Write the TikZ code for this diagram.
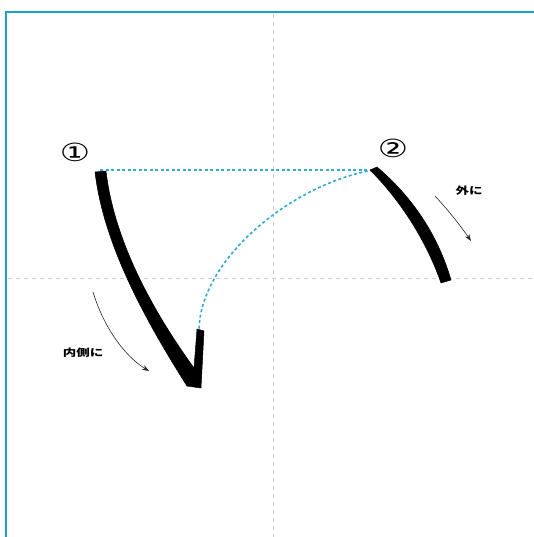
\documentclass[tikz,border=0pt]{standalone}
\usepackage{fontspec}
\newfontfamily\jp{Noto Sans CJK JP}
\newfontfamily\dv{DejaVu Sans}
\usetikzlibrary{arrows.meta}
\definecolor{frameblue}{RGB}{30,160,200}
\definecolor{dotblue}{RGB}{50,170,215}
\definecolor{guide}{RGB}{205,205,205}
\tikzset{
  guideline/.style={guide, line width=0.9pt, dash pattern=on 4pt off 4pt},
  guidepath/.style={dotblue, line width=1.6pt, dash pattern=on 3pt off 2.5pt},
  brush/.style={fill=black, draw=black, line width=0.5pt, line join=round},
  hintarrow/.style={black!85, line width=0.6pt, -{Stealth[length=7pt,width=5pt]}},
  hinttext/.style={font=\jp\bfseries\fontsize{10}{10}\selectfont, xscale=1.35, inner sep=0pt},
  numlabel/.style={font=\dv\fontsize{25}{25}\selectfont, xscale=1.35, inner sep=0pt}
}
\begin{document}
\begin{tikzpicture}[x=1pt,y=-1pt]
\useasboundingbox (0,0) rectangle (533,537);
\fill[white] (0,0) rectangle (533,537);
% guides
\draw[guideline] (273,14) -- (273,537);
\draw[guideline] (8,278) -- (533,278);
% frame
\draw[frameblue, line width=2.6pt] (6,545) -- (6,12) -- (545,12);
% anchor points
\coordinate (p1) at (100,170);
\coordinate (p2) at (373,170);
\coordinate (h) at (199,330);
% guide path (blue dotted)
\draw[guidepath] (p1) -- (p2);
\draw[guidepath] (p2) .. controls (290,185) and (200,260) .. (h);
% stroke 1 with hook
\filldraw[brush] (95,172) .. controls (103,240) and (140,312) .. (187,386)
  -- (201,388) -- (204,331) -- (197,329) -- (194,368)
  .. controls (152,310) and (114,240) .. (106,171) -- cycle;
% stroke 2
\filldraw[brush] (370,170) .. controls (400,200) and (426,240) .. (441,283)
  -- (451,280) .. controls (437,232) and (410,195) .. (377,167) -- cycle;
% numbers
\node[numlabel] (n1) at (75,152) {①};
\node[numlabel] (n2) at (393,148) {②};
% hints
\node[hinttext] (t1) at (83,353) {内側に};
\node[hinttext] (t2) at (469,191) {外に};
\coordinate (a1s) at (93,292);
\coordinate (a1e) at (149,371);
\coordinate (a2s) at (435,196);
\coordinate (a2e) at (471,241);
\draw[hintarrow] (a1s) .. controls (103,325) and (123,355) .. (a1e);
\draw[hintarrow] (a2s) .. controls (450,212) and (462,228) .. (a2e);
\end{tikzpicture}
\end{document}
